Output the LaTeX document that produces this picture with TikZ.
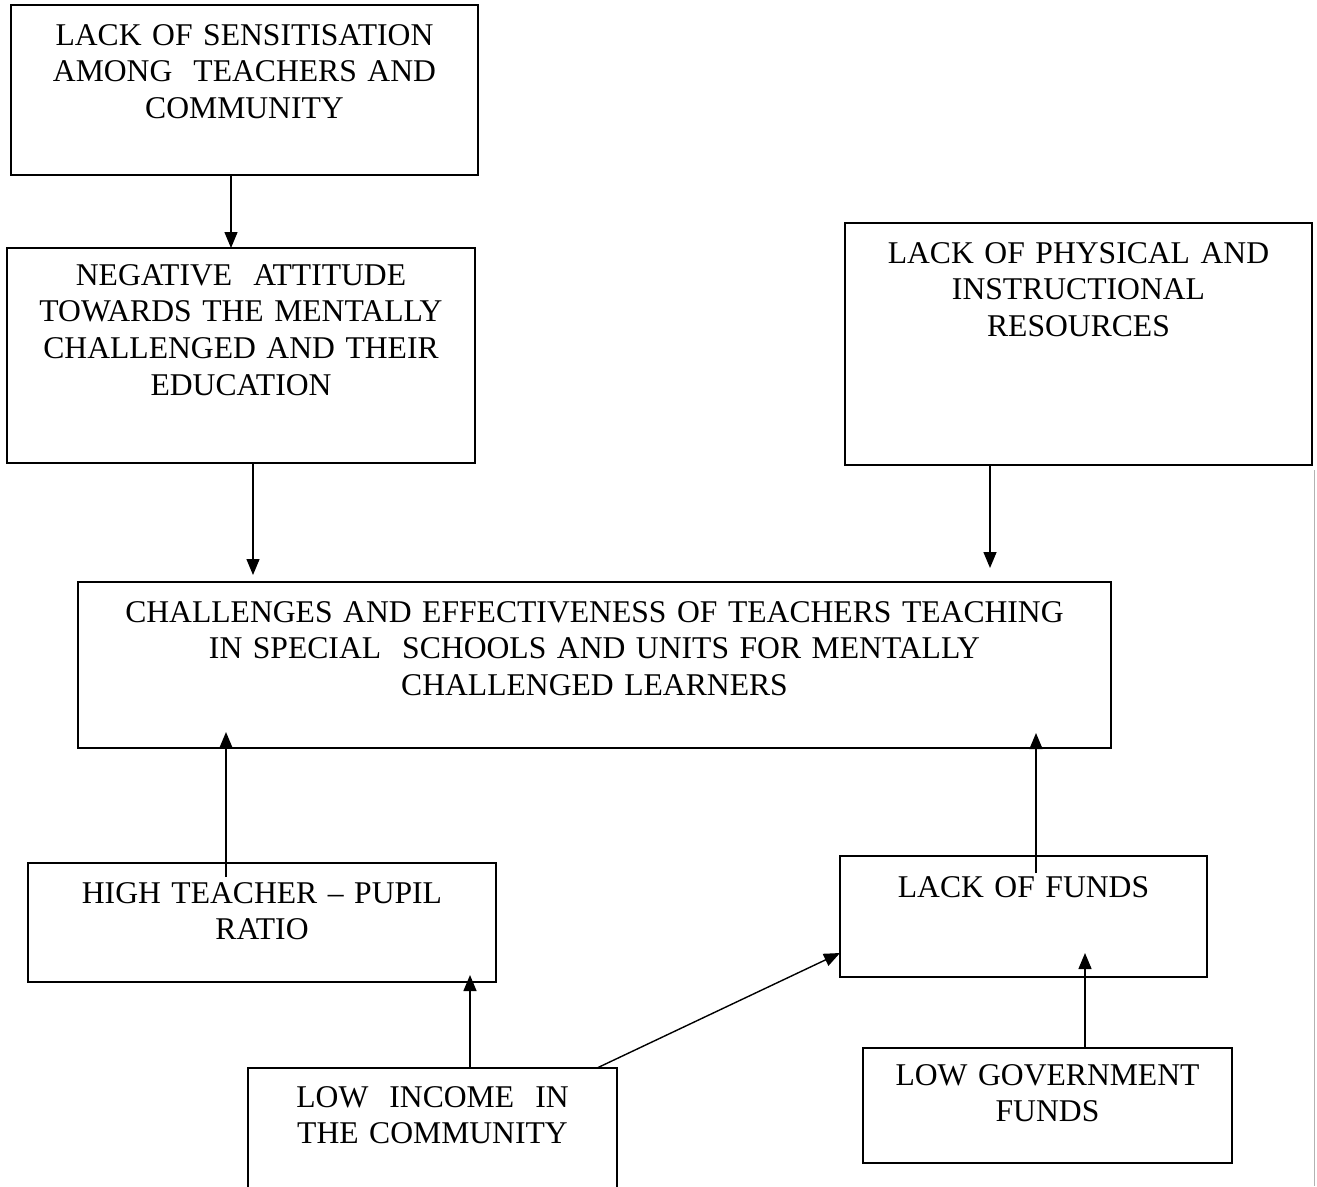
\documentclass[tikz,border=0pt]{standalone}
\usepackage{fontspec}
\setmainfont{Liberation Serif}
\usepackage{tikz}
\usetikzlibrary{arrows.meta}

\tikzset{
  box/.style={draw, line width=1pt, anchor=north, align=center, inner sep=0pt, outer sep=0pt,
    text height=8mm, font=\fontsize{18}{21}\selectfont},
  arr/.style={line width=0.8pt, -{Triangle[length=3.2mm,width=2.6mm]}}
}

\begin{document}
\begin{tikzpicture}[x=0.2mm, y=-0.2mm]

\useasboundingbox (0,0) rectangle (1317,1186);

\node[box, text width=93.4mm, text depth=26mm] (sens) at (244.5,5)
  {LACK OF SENSITISATION\\AMONG\ \ TEACHERS AND\\COMMUNITY};

\node[box, text width=93.6mm, text height=7.4mm, text depth=35.6mm] (att) at (241,248)
  {NEGATIVE\ \ ATTITUDE\\TOWARDS THE MENTALLY\\CHALLENGED AND THEIR\\EDUCATION};

\node[box, text width=93.4mm, text depth=40.4mm] (res) at (1078.5,223)
  {LACK OF PHYSICAL AND\\INSTRUCTIONAL\\RESOURCES};

\node[box, text width=206.6mm, text depth=25.2mm] (centre) at (594.5,582)
  {CHALLENGES AND EFFECTIVENESS OF TEACHERS TEACHING\\IN SPECIAL\ \ SCHOOLS AND UNITS FOR MENTALLY\\CHALLENGED LEARNERS};

\node[box, text width=93.6mm, text depth=15.8mm] (ratio) at (262,863)
  {HIGH TEACHER -- PUPIL\\RATIO};

\node[box, text width=73.4mm, text height=8.2mm, text depth=16mm] (funds) at (1023.5,856)
  {LACK OF FUNDS};

\node[box, text width=73.8mm, text height=7.8mm, text depth=18.2mm] (income) at (432.5,1068)
  {LOW\ \ INCOME\ \ IN\\THE COMMUNITY};

\node[box, text width=73.8mm, text height=7.4mm, text depth=15.6mm] (gov) at (1047.5,1048)
  {LOW GOVERNMENT\\FUNDS};

\draw[arr] (sens.south -| 231,0) -- (att.north -| 231,0);
\draw[arr, shorten >=1.4mm] (att.south -| 253,0) -- (centre.north -| 253,0);
\draw[arr, shorten >=2.8mm] (res.south -| 990,0) -- (centre.north -| 990,0);

\draw[arr, shorten <=-2.8mm, shorten >=-3.2mm] (ratio.north -| 226,0) -- (centre.south -| 226,0);
\draw[arr, shorten <=-3.4mm, shorten >=-3mm] (funds.north -| 1036,0) -- (centre.south -| 1036,0);

\draw[arr, shorten >=-1.4mm] (income.north -| 470,0) -- (ratio.south -| 470,0);
\draw[arr] (income.north -| 597,0) -- (funds.west |- 0,953);
\draw[arr, shorten >=-4.8mm] (gov.north -| 1085,0) -- (funds.south -| 1085,0);

\draw[gray!60, line width=0.5pt] (1314,470) -- (1314,1186);

\end{tikzpicture}
\end{document}
